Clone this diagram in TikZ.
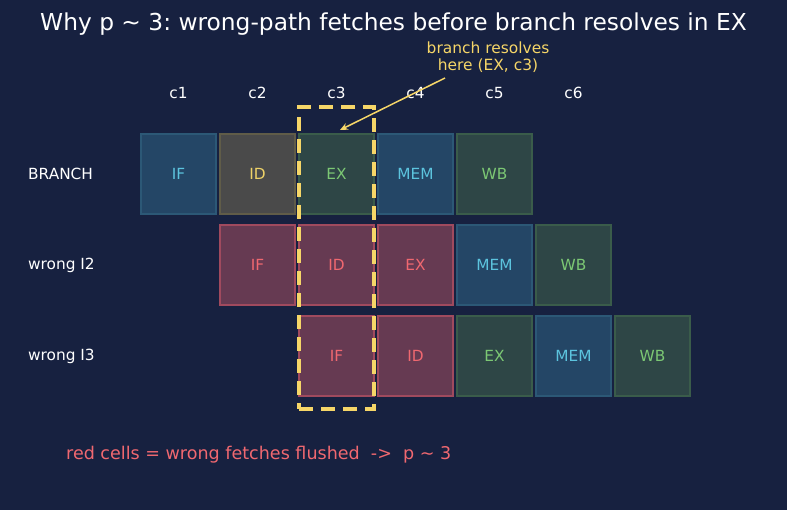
\documentclass[tikz,border=0pt]{standalone}
\usepackage{fontspec}
\setmainfont{DejaVu Sans}
\usetikzlibrary{arrows.meta}
\frenchspacing
\definecolor{bg}{RGB}{23,33,64}
\definecolor{blufill}{RGB}{36,70,102}
\definecolor{bluline}{RGB}{44,88,118}
\definecolor{blutext}{RGB}{92,196,222}
\definecolor{gryfill}{RGB}{74,74,74}
\definecolor{gryline}{RGB}{96,92,72}
\definecolor{yeltext}{RGB}{238,210,104}
\definecolor{grnfill}{RGB}{46,70,70}
\definecolor{grnline}{RGB}{58,92,74}
\definecolor{grntext}{RGB}{124,200,116}
\definecolor{redfill}{RGB}{102,58,82}
\definecolor{redline}{RGB}{160,74,94}
\definecolor{redtext}{RGB}{240,104,112}
\definecolor{hilite}{RGB}{246,214,104}
\tikzstyle{none}=[inner sep=0pt]
\tikzstyle{cell}=[draw, line width=1.5bp, minimum width=75bp, minimum height=80bp, inner sep=0pt, font=\fontsize{15.4}{17}\selectfont]
\tikzstyle{bluecell}=[cell, fill=blufill, draw=bluline, text=blutext]
\tikzstyle{greycell}=[cell, fill=gryfill, draw=gryline, text=yeltext]
\tikzstyle{greencell}=[cell, fill=grnfill, draw=grnline, text=grntext]
\tikzstyle{redcell}=[cell, fill=redfill, draw=redline, text=redtext]
\tikzstyle{label}=[none, text=white, font=\fontsize{15.4}{17}\selectfont]
\begin{document}
\begin{tikzpicture}[x=1bp, y=-1bp]
  \fill [bg] (0, 0) rectangle (787, 510);
  \useasboundingbox (0, 0) rectangle (787, 510);
  \node [none, text=white, font=\fontsize{23.4}{26}\selectfont] (title) at (393.5, 24) {Why p \textasciitilde{} 3: wrong-path fetches before branch resolves in EX};
  \node [label] (c1) at (178.5, 93) {c1};
  \node [label] (c2) at (257.5, 93) {c2};
  \node [label] (c3) at (336.5, 93) {c3};
  \node [label] (c4) at (415.5, 93) {c4};
  \node [label] (c5) at (494.5, 93) {c5};
  \node [label] (c6) at (573.5, 93) {c6};
  \node [label, anchor=west] (r1) at (28, 174) {BRANCH};
  \node [label, anchor=west] (r2) at (28, 265) {wrong I2};
  \node [label, anchor=west] (r3) at (28, 356) {wrong I3};
  % branch
  \node [style=bluecell] (b1) at (178.5, 174) {IF};
  \node [style=greycell] (b2) at (257.5, 174) {ID};
  \node [style=greencell] (b3) at (336.5, 174) {EX};
  \node [style=bluecell] (b4) at (415.5, 174) {MEM};
  \node [style=greencell] (b5) at (494.5, 174) {WB};
  % wrong I2
  \node [style=redcell] (w1) at (257.5, 265) {IF};
  \node [style=redcell] (w2) at (336.5, 265) {ID};
  \node [style=redcell] (w3) at (415.5, 265) {EX};
  \node [style=bluecell] (w4) at (494.5, 265) {MEM};
  \node [style=greencell] (w5) at (573.5, 265) {WB};
  % wrong I3
  \node [style=redcell] (v1) at (336.5, 356) {IF};
  \node [style=redcell] (v2) at (415.5, 356) {ID};
  \node [style=greencell] (v3) at (494.5, 356) {EX};
  \node [style=bluecell] (v4) at (573.5, 356) {MEM};
  \node [style=greencell] (v5) at (652.5, 356) {WB};
  % resolve column
  \node [draw=hilite, line width=4bp, dash pattern=on 14bp off 8bp, minimum width=75bp, minimum height=302bp, inner sep=0pt] (flush) at (336.5, 258) {};
  \node [none, text=hilite, align=center, font=\fontsize{15.5}{17.5}\selectfont] (note) at (488, 57) {branch resolves\\here (EX, c3)};
  \coordinate (from) at (445, 78);
  \coordinate (to) at (340, 130);
  \draw [hilite, line width=1.5bp, -{Stealth[length=8bp, width=7bp]}] (from) to (to);
  \node [none, text=redtext, anchor=west, font=\fontsize{17.6}{20}\selectfont] (key) at (66, 455) {red cells = wrong fetches flushed\ \ ->\ \ p \textasciitilde{} 3};
\end{tikzpicture}
\end{document}
